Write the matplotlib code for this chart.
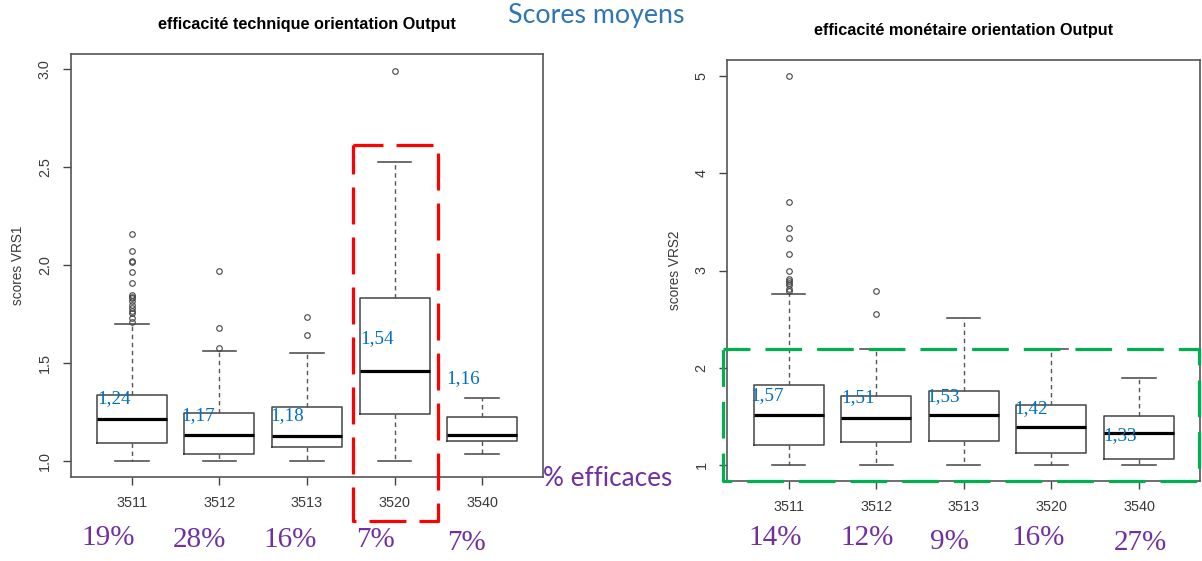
import matplotlib
matplotlib.use("Agg")
import matplotlib.pyplot as plt
from matplotlib.transforms import blended_transform_factory

plt.rcParams['lines.scale_dashes'] = False

# ---------------- data ----------------
categories = ['3511', '3512', '3513', '3520', '3540']

# efficacité technique (VRS1)
tech_q1 = [1.090, 1.034, 1.070, 1.238, 1.103]
tech_med = [1.212, 1.131, 1.126, 1.457, 1.134]
tech_q3 = [1.335, 1.246, 1.274, 1.832, 1.223]
tech_whislo = [1.0, 1.0, 1.0, 1.0, 1.036]
tech_whishi = [1.698, 1.562, 1.550, 2.524, 1.323]
tech_fliers = [
    [2.158, 2.072, 2.020, 2.012, 1.963, 1.906, 1.845, 1.838, 1.829, 1.817,
     1.795, 1.778, 1.765, 1.753, 1.727, 1.710],
    [1.968, 1.679, 1.574],
    [1.732, 1.641],
    [2.989],
    [],
]
tech_means = ['1,24', '1,17', '1,18', '1,54', '1,16']
tech_pct = ['19%', '28%', '16%', '7%', '7%']

# efficacité monétaire (VRS2)
mon_q1 = [1.213, 1.239, 1.250, 1.126, 1.065]
mon_med = [1.513, 1.486, 1.513, 1.390, 1.336]
mon_q3 = [1.829, 1.716, 1.767, 1.620, 1.503]
mon_whislo = [1.0, 1.0, 1.0, 1.0, 1.0]
mon_whishi = [2.759, 2.194, 2.512, 2.190, 1.896]
mon_fliers = [
    [5.0, 3.707, 3.433, 3.338, 3.170, 2.995, 2.917, 2.890, 2.870, 2.850,
     2.810, 2.790],
    [2.790, 2.557],
    [],
    [],
    [],
]
mon_means = ['1,57', '1,51', '1,53', '1,42', '1,33']
mon_pct = ['14%', '12%', '9%', '16%', '27%']

# ---------------- layout ----------------
W, H = 1202, 561
fig = plt.figure(figsize=(W / 100, H / 100), dpi=100)

def fx(px):
    return px / W

def fy(py):
    return 1 - py / H

ax1 = fig.add_axes([fx(70.7), fy(477), fx(543.3) - fx(70.7), fy(54) - fy(477)])
ax2 = fig.add_axes([fx(727.3), fy(481), fx(1200.3) - fx(727.3), fy(60) - fy(481)])

positions = [1, 2, 3, 4, 5]
SANS = ['Liberation Sans', 'DejaVu Sans']
SERIF = ['Liberation Serif', 'DejaVu Serif']
LABEL_COL = '#3a3a3a'


def draw_box(ax, q1, med, q3, lo, hi, fl, ylim, yticks, yticklabels, ylabel, title):
    stats = []
    for c, a, m, b, l, h, f in zip(categories, q1, med, q3, lo, hi, fl):
        stats.append(dict(med=m, q1=a, q3=b, whislo=l, whishi=h, fliers=f, label=c))
    ax.bxp(stats, positions=positions, widths=0.8, capwidths=0.38,
           boxprops=dict(color='#444444', lw=1.1),
           whiskerprops=dict(color='#555555', lw=1.0, linestyle=(0, (3.2, 2.6))),
           capprops=dict(color='#444444', lw=1.1),
           medianprops=dict(color='black', lw=2.3),
           flierprops=dict(marker='o', markerfacecolor='none', markeredgecolor='#444444',
                           markersize=4.0, markeredgewidth=0.8, linestyle='none'),
           manage_ticks=False)
    ax.set_xlim(0.3, 5.7)
    ax.set_ylim(*ylim)
    ax.set_xticks(positions)
    ax.set_xticklabels(categories, family=SANS, fontsize=10.4, color=LABEL_COL)
    ax.set_yticks(yticks)
    ax.set_yticklabels(yticklabels, family=SANS, fontsize=10.4, color=LABEL_COL,
                       rotation=90, va='center')
    ax.tick_params(axis='both', length=6, width=1.0, color='#444444', pad=7.5)
    for s in ax.spines.values():
        s.set_color('#555555')
        s.set_linewidth(1.2)
    ax.set_ylabel(ylabel, family=SANS, fontsize=9.8, color=LABEL_COL, labelpad=9)
    ax.set_title(title, family=SANS, fontsize=11.7, fontweight='bold', pad=18)


draw_box(ax1, tech_q1, tech_med, tech_q3, tech_whislo, tech_whishi, tech_fliers,
         (0.918, 3.075), [1.0, 1.5, 2.0, 2.5, 3.0], ['1.0', '1.5', '2.0', '2.5', '3.0'],
         'scores VRS1', 'efficacité technique orientation Output')
draw_box(ax2, mon_q1, mon_med, mon_q3, mon_whislo, mon_whishi, mon_fliers,
         (0.84, 5.16), [1, 2, 3, 4, 5], ['1', '2', '3', '4', '5'],
         'scores VRS2', 'efficacité monétaire orientation Output')

# mean value annotations (blue)
BLUE = '#0070C0'
tech_lab_x = [0.609, 1.569, 2.578, 3.606, 4.597]
tech_lab_y = [1.32, 1.231, 1.229, 1.625, 1.418]
for t, x, y in zip(tech_means, tech_lab_x, tech_lab_y):
    ax1.text(x, y, t, color=BLUE, family=SERIF, fontsize=13.8, ha='left', va='center')
mon_lab_x = [0.559, 1.606, 2.576, 3.573, 4.589]
mon_lab_y = [1.719, 1.698, 1.708, 1.585, 1.301]
for t, x, y in zip(mon_means, mon_lab_x, mon_lab_y):
    ax2.text(x, y, t, color=BLUE, family=SERIF, fontsize=13.8, ha='left', va='center')

# percentages (purple)
PURPLE = '#7030A0'
tr1 = blended_transform_factory(ax1.transData, fig.transFigure)
tr2 = blended_transform_factory(ax2.transData, fig.transFigure)
tech_pct_x = [0.73, 1.766, 2.806, 3.786, 4.818]
tech_pct_y = [538, 540, 540, 540, 543]
for t, x, y in zip(tech_pct, tech_pct_x, tech_pct_y):
    fig.text(x, fy(y), t, transform=tr1, color=PURPLE, family=SERIF, fontsize=21,
             ha='center', va='center')
mon_pct_x = [0.845, 1.891, 2.831, 3.847, 5.011]
mon_pct_y = [538, 538, 541.7, 538, 543]
for t, x, y in zip(mon_pct, mon_pct_x, mon_pct_y):
    fig.text(x, fy(y), t, transform=tr2, color=PURPLE, family=SERIF, fontsize=21,
             ha='center', va='center')

# highlight boxes (path: top-left -> top-right -> bottom-right -> bottom-left -> top-left)
ax1.plot([3.526, 4.498, 4.498, 3.526, 3.526], [2.611, 2.611, 0.696, 0.696, 2.611],
         color='#FF0000', lw=2.3, linestyle=(5, (26.6, 9.4)), clip_on=False, zorder=5)
ax2.plot([0.247, 5.681, 5.681, 0.247, 0.247], [2.194, 2.194, 0.843, 0.843, 2.194],
         color='#00B050', lw=2.3, linestyle=(7, (26.4, 10.8)), clip_on=False, zorder=5)

# overlay captions
fig.text(fx(508), fy(16), 'Scores moyens', family=['Lato', 'DejaVu Sans'], fontsize=19.3,
         color='#2E75B6', ha='left', va='center')
fig.text(fx(543), fy(479), '% efficaces', family=['Lato', 'DejaVu Sans'], fontsize=18.8,
         color=PURPLE, ha='left', va='center')

fig.savefig('out.png', dpi=100)
